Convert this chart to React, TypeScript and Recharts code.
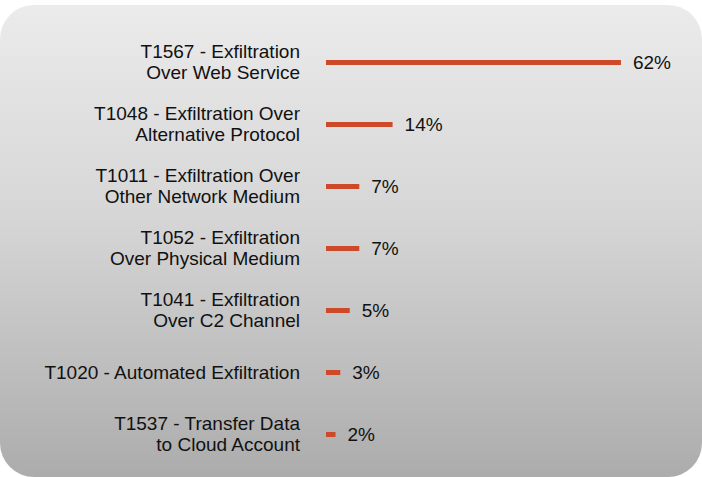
import React from "react";
import { BarChart, Bar, XAxis, YAxis, LabelList } from "recharts";

const categories = [
  "T1567 - Exfiltration\nOver Web Service",
  "T1048 - Exfiltration Over\nAlternative Protocol",
  "T1011 - Exfiltration Over\nOther Network Medium",
  "T1052 - Exfiltration\nOver Physical Medium",
  "T1041 - Exfiltration\nOver C2 Channel",
  "T1020 - Automated Exfiltration",
  "T1537 - Transfer Data\nto Cloud Account",
];
const values = [62, 14, 7, 7, 5, 3, 2];

const data = categories.map((name, i) => ({ name, value: values[i] }));

const FONT = '"Liberation Sans", Arial, Helvetica, sans-serif';
const TEXT = "#111111";
const BAR = "#cc4a2a";

const YTick = (props: any) => {
  const { x, y, payload } = props;
  const lines = String(payload.value).split("\n");
  const lh = 21;
  const start = -((lines.length - 1) * lh) / 2 + 6.8;
  return (
    <text x={x} y={y} textAnchor="end" fontSize={19} fill={TEXT} fontFamily={FONT}>
      {lines.map((l, i) => (
        <tspan key={i} x={x} dy={i === 0 ? start : lh}>
          {l}
        </tspan>
      ))}
    </text>
  );
};

export default function App() {
  return (
    <div style={{ position: "fixed", left: 0, top: 0, width: 702, height: 477, overflow: "hidden" }}>
      <div
        style={{
          position: "absolute",
          left: 0,
          top: 5,
          width: 702,
          height: 472,
          borderRadius: 34,
          background: "linear-gradient(to bottom, #ebebeb 0%, #d6d6d6 45%, #acacac 100%)",
        }}
      />
      <div style={{ position: "absolute", left: 0, top: 0 }}>
        <BarChart
          width={702}
          height={477}
          data={data}
          layout="vertical"
          margin={{ top: 31, right: 43, bottom: 12, left: 0 }}
        >
          <XAxis type="number" domain={[0, 70]} hide />
          <YAxis
            type="category"
            dataKey="name"
            width={326}
            axisLine={false}
            tickLine={false}
            tickSize={0}
            tickMargin={26}
            interval={0}
            tick={<YTick />}
          />
          <Bar dataKey="value" fill={BAR} barSize={5} isAnimationActive={false}>
            <LabelList
              dataKey="value"
              position="right"
              offset={12}
              formatter={(v: any) => `${v}%`}
              style={{ fill: TEXT, fontSize: 19, fontFamily: FONT }}
            />
          </Bar>
        </BarChart>
      </div>
    </div>
  );
}
